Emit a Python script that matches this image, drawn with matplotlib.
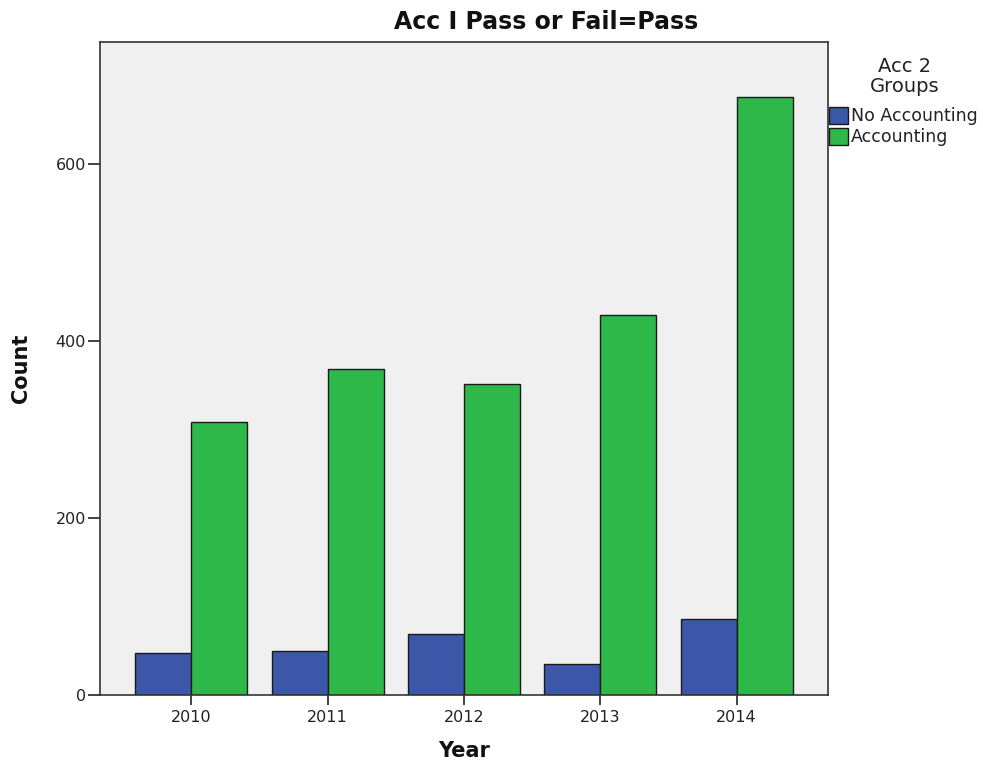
import matplotlib
matplotlib.use("Agg")
import matplotlib.pyplot as plt
import numpy as np
from matplotlib.patches import Patch

years = ["2010", "2011", "2012", "2013", "2014"]
no_accounting = [47, 50, 69, 35, 86]
accounting = [309, 369, 351, 430, 676]
series_names = ["No Accounting", "Accounting"]
colors = ["#3C56A8", "#2EB84A"]

plt.rcParams['font.family'] = ['DejaVu Sans']

W, H = 983, 769
fig = plt.figure(figsize=(W/100, H/100), dpi=100)
ax = fig.add_axes([100/W, 74/H, 728/W, 653/H])
ax.set_facecolor("#F0F0F0")

x = np.arange(len(years))
w = 0.41
ax.bar(x - w/2, no_accounting, w, color=colors[0], edgecolor="#1a1a1a", linewidth=1.0)
ax.bar(x + w/2, accounting, w, color=colors[1], edgecolor="#1a1a1a", linewidth=1.0)

ax.set_xlim(-0.67, 4.67)
ax.set_ylim(0, 738)
ax.set_xticks(x)
ax.set_xticklabels(years, fontsize=11.5, color="#222222")
ax.set_yticks([0, 200, 400, 600])
ax.set_yticklabels(["0", "200", "400", "600"], fontsize=11.5, color="#222222")
ax.tick_params(axis='x', length=7.5, width=1.2, color="#222222", pad=3)
ax.tick_params(axis='y', length=9, width=1.2, color="#222222", pad=1)
for s in ax.spines.values():
    s.set_color("#333333")
    s.set_linewidth(1.2)

fig.text(546/W, 1 - 22/H, "Acc I Pass or Fail=Pass", fontsize=17, fontweight='bold',
         ha='center', va='center', color="#111111")
ax.set_xlabel("Year", fontsize=15, fontweight='bold', labelpad=12, color="#111111")
ax.set_ylabel("Count", fontsize=15, fontweight='bold', labelpad=18, color="#111111")

fig.text(905/W, 1 - 66/H, "Acc 2", fontsize=14, ha='center', va='center', color="#222222")
fig.text(905/W, 1 - 86/H, "Groups", fontsize=14, ha='center', va='center', color="#222222")

handles = [Patch(facecolor=c, edgecolor="#1a1a1a") for c in colors]
leg = fig.legend(handles, series_names, loc="upper left",
                 bbox_to_anchor=(829/W, 1 - 107/H), frameon=False, fontsize=12.5,
                 handlelength=1.1, handleheight=1.1,
                 handletextpad=0.15, labelspacing=0.15, borderaxespad=0, borderpad=0)
for t in leg.get_texts():
    t.set_color("#222222")

fig.savefig("out.png", dpi=100)
